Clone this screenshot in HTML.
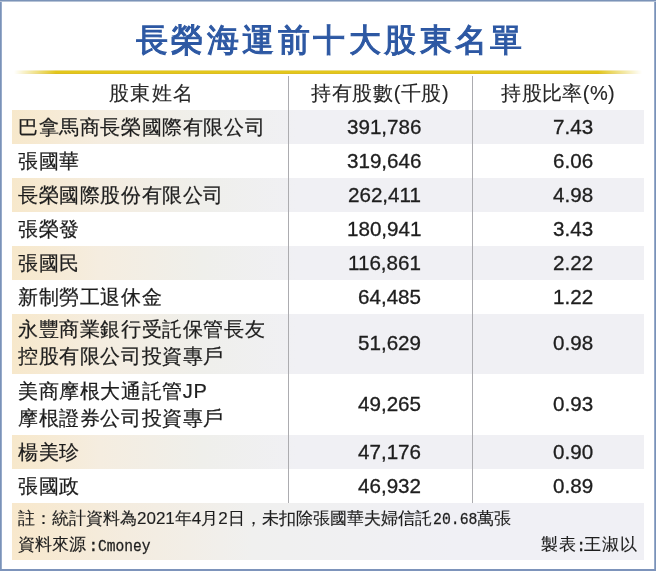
<!DOCTYPE html>
<html><head><meta charset="utf-8">
<style>
*{margin:0;padding:0;box-sizing:border-box}
html,body{width:656px;height:571px;overflow:hidden;background:#fff}
body{position:relative;font-family:"Liberation Sans",sans-serif;color:#1e1e1e;-webkit-font-smoothing:antialiased}
.row span,.hd,.ft div,.title{will-change:transform}
.bl{position:absolute;left:0;top:0;width:2px;height:571px;background:linear-gradient(to right,#7a92b8 50%,#97abca 50%)}
.br{position:absolute;right:0;top:0;width:2px;height:571px;background:linear-gradient(to right,#97abca 50%,#7a92b8 50%)}
.bt{position:absolute;left:0;top:0;width:656px;height:2px;background:linear-gradient(#7b93b8 50%,#b6c3d6 50%)}
.bb{position:absolute;left:0;bottom:0;width:656px;height:2px;background:#7d94bb}
.title{position:absolute;left:136px;top:20px;font-size:32px;letter-spacing:3.45px;font-weight:normal;color:#2d58a3;-webkit-text-stroke:1.1px #2d58a3;line-height:40px;white-space:nowrap}
.yl{position:absolute;left:14px;width:628px;top:70px;height:4px;
 background:linear-gradient(#ecdc86 0,#ecdc86 1px,#e3c81c 1px,#e2c61a 3px,#dcbd22 3px);
 -webkit-mask-image:linear-gradient(to right,transparent 0%,#000 6.7%,#000 93%,transparent 100%)}
.row{position:absolute;left:12px;width:632px;height:34px;font-size:20px;line-height:24px}
.sh{background:linear-gradient(to right,#f7e8cb 0%,#f5ede0 14%,#efefeb 30%,#f0f0f4 45%,#f0f0f4 100%)}
.c1{position:absolute;left:6px;top:3.5px;white-space:nowrap;letter-spacing:0.6px;line-height:27px;-webkit-text-stroke:0.22px #1e1e1e}
.c2,.c3{position:absolute;top:5px;white-space:nowrap;font-size:20.6px;-webkit-text-stroke:0.32px #1e1e1e}
.c2{right:223px}
.c3{right:51px}
.tall .c2,.tall .c3{top:18px}
.vl{position:absolute;top:76px;height:427px;width:1px;background:#acacb0}
.hd{position:absolute;top:76px;height:34px;font-size:20px;line-height:34px;text-align:center;white-space:nowrap;-webkit-text-stroke:0.12px #262626;color:#262626}
.ft{position:absolute;left:12px;top:503px;width:632px;height:57px;
 background:linear-gradient(to right,#f8e8cc 0%,#f4ecdf 18%,#f0f0ef 38%,#f0f0f5 70%,#f0f0f5 100%);font-size:17px}
.ft div{position:absolute;white-space:nowrap;line-height:24px;-webkit-text-stroke:0.15px #1e1e1e}
.mono{font-family:"Liberation Mono",monospace;font-size:17px;letter-spacing:-1.4px;-webkit-text-stroke:0.3px #1e1e1e}
</style></head><body>
<div class="bl"></div><div class="br"></div><div class="bt"></div><div class="bb"></div>
<div class="title">長榮海運前十大股東名單</div>
<div class="yl"></div>

<div class="hd" style="left:13px;width:276px;letter-spacing:1.4px;text-indent:1.4px">股東姓名</div>
<div class="hd" style="left:288px;width:184px;letter-spacing:0.6px;text-indent:0.6px">持有股數(千股)</div>
<div class="hd" style="left:472px;width:172px;letter-spacing:0.4px;text-indent:0.4px">持股比率(%)</div>

<div class="row sh" style="top:110px"><span class="c1">巴拿馬商長榮國際有限公司</span><span class="c2">391,786</span><span class="c3">7.43</span></div>
<div class="row" style="top:144px"><span class="c1">張國華</span><span class="c2">319,646</span><span class="c3">6.06</span></div>
<div class="row sh" style="top:178px"><span class="c1">長榮國際股份有限公司</span><span class="c2">262,411</span><span class="c3">4.98</span></div>
<div class="row" style="top:212px"><span class="c1">張榮發</span><span class="c2">180,941</span><span class="c3">3.43</span></div>
<div class="row sh" style="top:246px"><span class="c1">張國民</span><span class="c2">116,861</span><span class="c3">2.22</span></div>
<div class="row" style="top:280px"><span class="c1">新制勞工退休金</span><span class="c2">64,485</span><span class="c3">1.22</span></div>
<div class="row sh tall" style="top:314px;height:60px"><span class="c1" style="top:2.2px">永豐商業銀行受託保管長友<br>控股有限公司投資專戶</span><span class="c2" style="top:17px">51,629</span><span class="c3" style="top:17px">0.98</span></div>
<div class="row tall" style="top:374px;height:61px"><span class="c1" style="top:4px">美商摩根大通託管JP<br>摩根證券公司投資專戶</span><span class="c2">49,265</span><span class="c3">0.93</span></div>
<div class="row sh" style="top:435px"><span class="c1">楊美珍</span><span class="c2">47,176</span><span class="c3">0.90</span></div>
<div class="row" style="top:469px"><span class="c1">張國政</span><span class="c2">46,932</span><span class="c3">0.89</span></div>

<div class="vl" style="left:288px"></div>
<div class="vl" style="left:472px"></div>

<div class="ft">
<div style="left:6px;top:3.5px">註：統計資料為2021年4月2日，未扣除張國華夫婦信託<span class="mono" style="margin-left:1px;display:inline-block;width:44.3px;letter-spacing:0;transform:scaleX(.87);transform-origin:0 50%">20.68</span>萬張</div>
<div style="left:6px;top:29.5px">資料來源<span class="mono" style="margin-left:2.2px;position:relative;top:1px">:</span><span class="mono" style="display:inline-block;letter-spacing:0;font-size:16.8px;transform:scaleX(.87);transform-origin:0 50%;position:relative;top:0.6px;left:1px">Cmoney</span></div>
<div style="right:6px;top:29.5px;letter-spacing:1.1px">製表<span class="mono" style="letter-spacing:-3.6px;position:relative;left:-1.3px;top:0.5px">:</span>王淑以</div>
</div>
</body></html>
